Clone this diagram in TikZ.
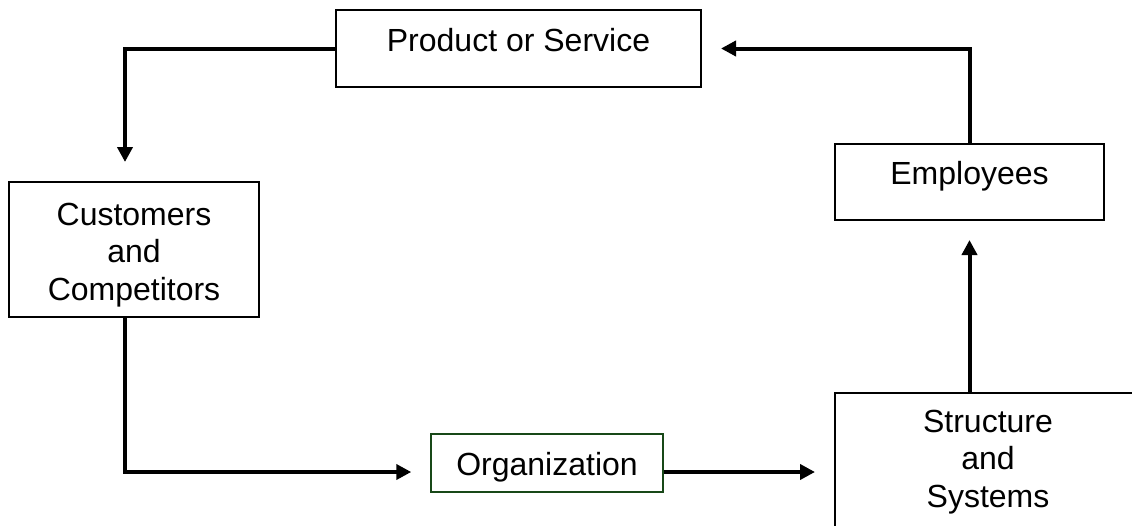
\documentclass[tikz,border=0pt]{standalone}
\usepackage{fontspec}
\setmainfont{Liberation Sans}
\usepackage{xcolor}
\usepackage{tikz}
\usetikzlibrary{arrows.meta}

\definecolor{orggreen}{RGB}{24,72,24}

\begin{document}
\begin{tikzpicture}[x=1pt,y=-1pt,
		box/.style={
			% The shape:
			rectangle,inner xsep=0pt,inner ysep=0pt,
			% The rest
			line width=2pt,draw=black,fill=white,
			font=\fontsize{32}{37.5}\selectfont,align=center},
		flow/.style={line width=4pt,shorten >=19pt,
			-{Triangle[length=15pt,width=15pt]}}]
		\useasboundingbox (0,0) rectangle (1132,525);
		\node (c_prod)		[box, minimum width=365pt, text height=41pt, text depth=36pt] at (518.5,48.5) {Product or Service};
		\node (c_cust)		[box, minimum width=250pt, minimum height=135pt] at (134,249.5) {\rule{0pt}{33pt}Customers\\and\\Competitors};
		\node (c_org)		[box, draw=orggreen, line width=1.5pt, minimum width=232pt, text height=41pt, text depth=17pt] at (547,463) {Organization};
		\node (c_struct)	[box, minimum width=306pt, minimum height=138pt] at (988,462) {Structure\\and\\Systems};
		\node (c_emp)		[box, minimum width=269pt, text height=40pt, text depth=36pt] at (969.5,182) {Employees};

		\draw[flow] (c_prod.west) -| ([xshift=-9pt]c_cust.north);
		\draw[flow] ([xshift=-9pt]c_cust.south) |- ([yshift=-9pt]c_org.west);
		\draw[flow] ([yshift=-9pt]c_org.east) -- ([yshift=-9pt]c_org.east -| c_struct.west);
		\draw[flow] (c_struct.north -| c_emp.south) -- (c_emp.south);
		\draw[flow] (c_emp.north) |- (c_prod.east);
	\end{tikzpicture}
\end{document}
